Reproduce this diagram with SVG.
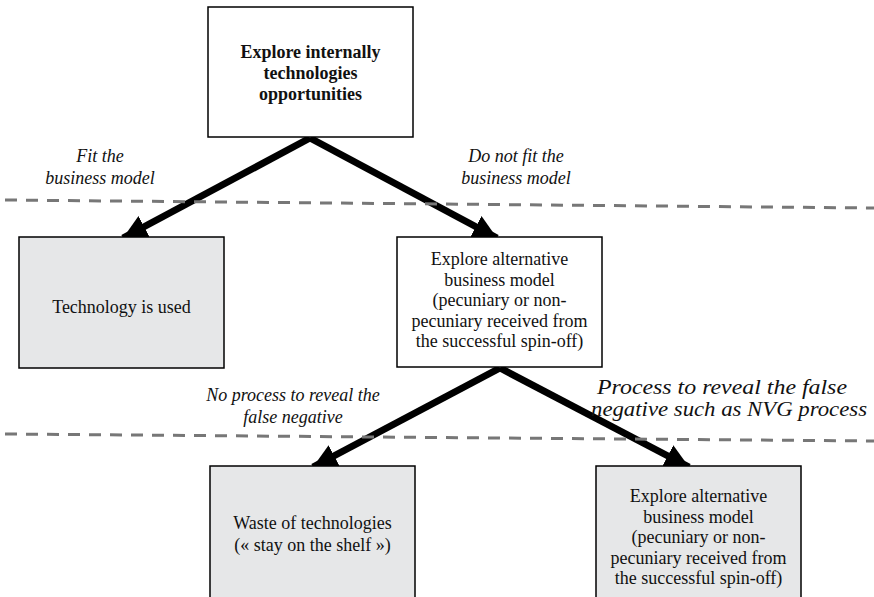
<svg xmlns="http://www.w3.org/2000/svg" width="874" height="597" viewBox="0 0 874 597">
  <style>
    .box { stroke: #000; stroke-width: 1.5; }
    .plain { fill: #fff; }
    .shaded { fill: #e6e7e8; }
    .txt { font-family: "Liberation Serif", "Times New Roman", serif; font-size: 18px; fill: #111; text-anchor: middle; }
    .bold { font-weight: bold; }
    .lbl { font-family: "Liberation Serif", "Times New Roman", serif; font-size: 18px; font-style: italic; fill: #111; text-anchor: middle; }
    .wide { font-size: 20px; }
    .arrow { stroke: #000; stroke-width: 7; fill: none; marker-end: url(#head); }
    .sep { stroke: #777; stroke-width: 3; stroke-dasharray: 12 9; fill: none; }
  </style>
  <defs>
    <marker id="head" markerUnits="userSpaceOnUse" viewBox="0 0 24 24" refX="24" refY="12" markerWidth="24" markerHeight="24" orient="auto">
      <path d="M0,0 L24,12 L0,24 Z" fill="#000"/>
    </marker>
  </defs>

  <rect width="874" height="597" fill="#fff"/>

  <!-- branch arrows -->
  <g id="connectors">
    <line class="arrow" x1="310" y1="138" x2="123" y2="238"/>
    <line class="arrow" x1="310" y1="138" x2="497" y2="238"/>
    <line class="arrow" x1="500" y1="368" x2="313" y2="467"/>
    <line class="arrow" x1="500" y1="368" x2="689" y2="467"/>
  </g>

  <!-- dashed level separators -->
  <g id="separators">
    <line class="sep" x1="5" y1="200" x2="874" y2="208"/>
    <line class="sep" x1="5" y1="434" x2="874" y2="441"/>
  </g>

  <!-- branch labels -->
  <g id="labels">
    <text class="lbl" x="100" y="162">Fit the</text>
    <text class="lbl" x="100" y="184">business model</text>
    <text class="lbl" x="516" y="162">Do not fit the</text>
    <text class="lbl" x="516" y="184">business model</text>
    <text class="lbl" x="293" y="401">No process to reveal the</text>
    <text class="lbl" x="293" y="423">false negative</text>
    <text class="lbl wide" x="722" y="394" textLength="250" lengthAdjust="spacingAndGlyphs">Process to reveal the false</text>
    <text class="lbl wide" x="729" y="416" textLength="276" lengthAdjust="spacingAndGlyphs">negative such as NVG process</text>
  </g>

  <g id="node-explore-internally">
    <rect class="box plain" x="208" y="7" width="205" height="130"/>
    <text class="txt bold" x="310.5" y="58">Explore internally</text>
    <text class="txt bold" x="310.5" y="79">technologies</text>
    <text class="txt bold" x="310.5" y="100">opportunities</text>
  </g>

  <g id="node-technology-used">
    <rect class="box shaded" x="19" y="237" width="205" height="131"/>
    <text class="txt" x="121.5" y="313">Technology is used</text>
  </g>

  <g id="node-explore-alternative">
    <rect class="box plain" x="397" y="237" width="205" height="130"/>
    <text class="txt" x="499.5" y="265">Explore alternative</text>
    <text class="txt" x="499.5" y="285.5">business model</text>
    <text class="txt" x="499.5" y="306">(pecuniary or non-</text>
    <text class="txt" x="499.5" y="326.5">pecuniary received from</text>
    <text class="txt" x="499.5" y="347">the successful spin-off)</text>
  </g>

  <g id="node-waste">
    <rect class="box shaded" x="210" y="466" width="205" height="140"/>
    <text class="txt" x="312.5" y="529">Waste of technologies</text>
    <text class="txt" x="312.5" y="551">(« stay on the shelf »)</text>
  </g>

  <g id="node-explore-alternative-nvg">
    <rect class="box shaded" x="596" y="466" width="205" height="140"/>
    <text class="txt" x="698.5" y="502">Explore alternative</text>
    <text class="txt" x="698.5" y="522.5">business model</text>
    <text class="txt" x="698.5" y="543">(pecuniary or non-</text>
    <text class="txt" x="698.5" y="563.5">pecuniary received from</text>
    <text class="txt" x="698.5" y="584">the successful spin-off)</text>
  </g>
</svg>
